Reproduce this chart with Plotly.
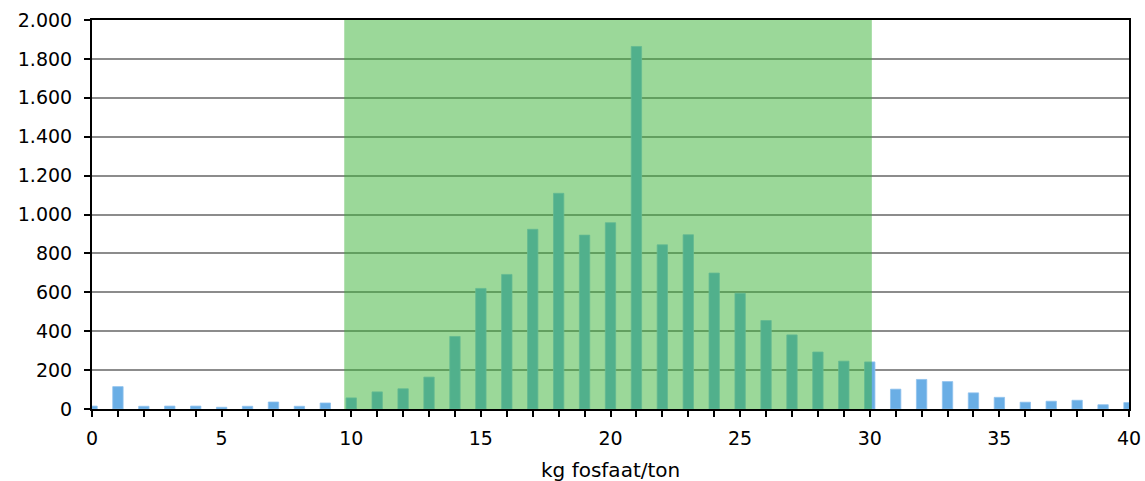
import plotly.graph_objects as go

x_values = list(range(0, 41))
counts = [15, 115, 14, 15, 15, 9, 14, 36, 14, 31,
          57, 88, 104, 164, 373, 620, 692, 924, 1109, 894,
          958, 1864, 844, 896, 699, 595, 455, 381, 293, 246,
          242, 102, 152, 141, 83, 60, 35, 40, 45, 22, 33]

band_start = 9.73
band_end = 30.08

x_title = "kg fosfaat/ton"
y_tickvals = list(range(0, 2001, 200))
y_ticktext = ["0", "200", "400", "600", "800", "1.000", "1.200", "1.400", "1.600", "1.800", "2.000"]
x_tickvals = list(range(0, 41))
x_ticktext = [str(v) if v % 5 == 0 else "" for v in x_tickvals]

fig = go.Figure()
fig.add_trace(go.Bar(
    x=x_values, y=counts, width=0.4,
    marker=dict(color="#6aaee5", line=dict(color="#8fc2ee", width=0.8)),
    showlegend=False,
))

fig.add_shape(type="rect", xref="x", yref="paper", x0=band_start, x1=band_end, y0=0, y1=1,
              fillcolor="rgba(55,177,51,0.5)", line=dict(width=0), layer="above")

font = dict(family="DejaVu Sans, Verdana, sans-serif", size=19, color="#000000")
title_font = dict(family="DejaVu Sans, Verdana, sans-serif", size=20, color="#000000")

fig.add_annotation(text=x_title, xref="paper", yref="paper", x=0.5, y=-0.157,
                   xanchor="center", yanchor="middle", showarrow=False, font=title_font)

fig.update_layout(
    width=1145, height=481,
    margin=dict(l=92, r=16, t=20, b=72, autoexpand=False),
    paper_bgcolor="white", plot_bgcolor="white",
    font=font,
)
fig.update_xaxes(
    range=[0, 40], tickvals=x_tickvals, ticktext=x_ticktext,
    ticks="outside", ticklen=6, tickwidth=2, tickcolor="black",
    ticklabelstandoff=5,
    showline=True, linecolor="black", linewidth=2, mirror=True,
    showgrid=False, zeroline=False, automargin=False,
)
fig.update_yaxes(
    range=[0, 2000], tickvals=y_tickvals, ticktext=y_ticktext,
    ticks="outside", ticklen=6, tickwidth=2, tickcolor="black",
    ticklabelstandoff=8,
    showline=True, linecolor="black", linewidth=2, mirror=True,
    showgrid=True, gridcolor="#8c8c8c", gridwidth=1.5, zeroline=False,
    automargin=False,
)

fig.write_html("out.html", config={"displayModeBar": False},
               post_script="document.body.style.margin='0px';document.body.style.overflow='hidden';")
